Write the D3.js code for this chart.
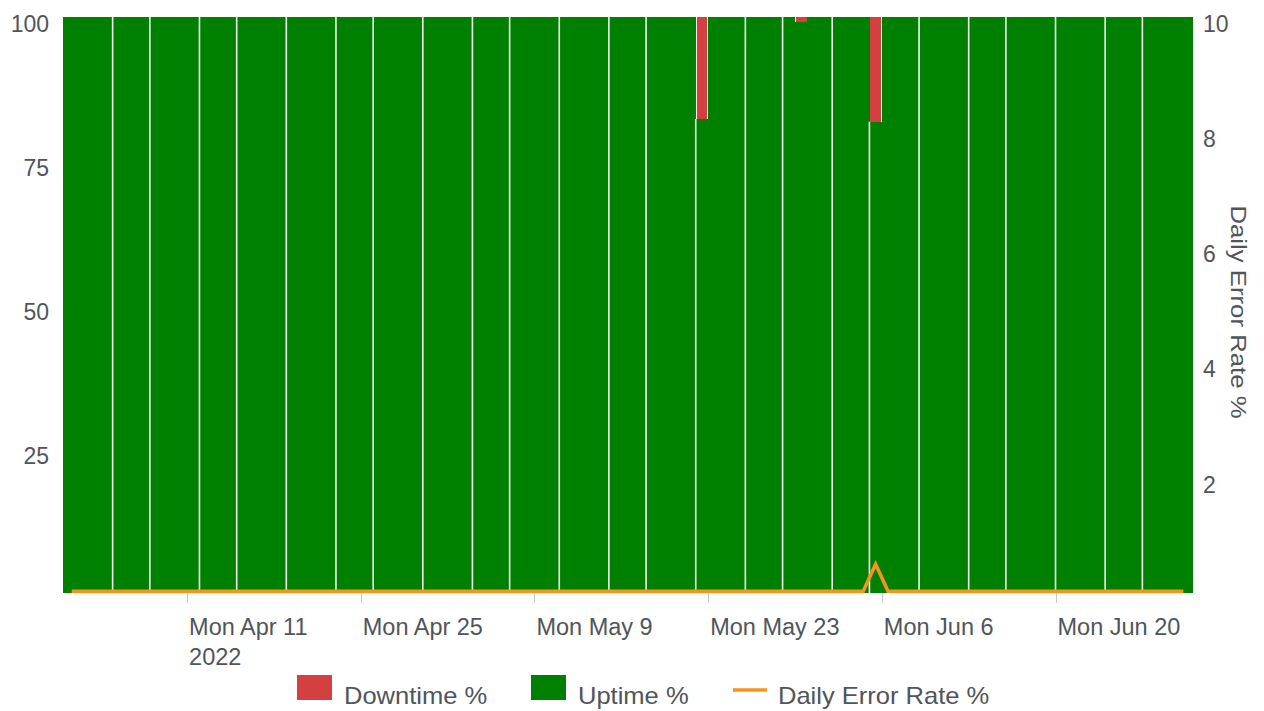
<!DOCTYPE html>
<html><head><meta charset="utf-8">
<script src="https://cdn.jsdelivr.net/npm/d3@7"></script>
<style>body{margin:0;background:#fff;}svg{display:block;font-family:"Liberation Sans",Arial,sans-serif;}</style>
</head><body><svg id="c" width="1264" height="711"></svg>
<script>
// ---- data ----
const firstDay = "2022-04-01";
const lastDayExclusive = "2022-07-01";
const downtime = [
  0,0,0,0,0,0,0,0,0,0,
  0,0,0,0,0,0,0,0,0,0,
  0,0,0,0,0,0,0,0,0,0,
  0,0,0,0,0,0,0,0,0,0,
  0,0,0,0,0,0,0,0,0,0,
  0,17.7,0,0,0,0,0,0,0,0.9,
  0,0,0,0,0,18.2,0,0,0,0,
  0,0,0,0,0,0,0,0,0,0,
  0,0,0,0,0,0,0,0,0,0,
  0
];
const uptime = [
  100,100,100,100,100,100,100,100,100,100,
  100,100,100,100,100,100,100,100,100,100,
  100,100,100,100,100,100,100,100,100,100,
  100,100,100,100,100,100,100,100,100,100,
  100,100,100,100,100,100,100,100,100,100,
  100,82.3,100,100,100,100,100,100,100,99.1,
  100,100,100,100,100,81.8,100,100,100,100,
  100,100,100,100,100,100,100,100,100,100,
  100,100,100,100,100,100,100,100,100,100,
  100
];
const errorRate = [
  0.03,0.03,0.03,0.03,0.03,0.03,0.03,0.03,0.03,0.03,
  0.03,0.03,0.03,0.03,0.03,0.03,0.03,0.03,0.03,0.03,
  0.03,0.03,0.03,0.03,0.03,0.03,0.03,0.03,0.03,0.03,
  0.03,0.03,0.03,0.03,0.03,0.03,0.03,0.03,0.03,0.03,
  0.03,0.03,0.03,0.03,0.03,0.03,0.03,0.03,0.03,0.03,
  0.03,0.03,0.03,0.03,0.03,0.03,0.03,0.03,0.03,0.03,
  0.03,0.03,0.03,0.03,0.03,0.5,0.03,0.03,0.03,0.03,
  0.03,0.03,0.03,0.03,0.03,0.03,0.03,0.03,0.03,0.03,
  0.03,0.03,0.03,0.03,0.03,0.03,0.03,0.03,0.03,0.03,
  0.03
];
const xTickDates = ["2022-04-11","2022-04-25","2022-05-09","2022-05-23","2022-06-06","2022-06-20"];
const leftTicks = [25,50,75,100];
const rightTicks = [2,4,6,8,10];
const legendLabels = ["Downtime %","Uptime %","Daily Error Rate %"];
const rightTitle = "Daily Error Rate %";

// ---- setup ----
const parse = d3.timeParse("%Y-%m-%d");
const days = d3.timeDay.range(parse(firstDay), parse(lastDayExclusive));
const rows = days.map((d,i)=>({i, date:d, down:downtime[i], up:uptime[i], err:errorRate[i]}));

const C = {green:"#008000", red:"#d43f3f", orange:"#f7931e", text:"#50555b", tick:"#c8c8c8", sep:"#f2f4f2"};
const L=63, R=1192, T=17, B=593;
const svg = d3.select("#c");

const x = d3.scaleTime().domain([parse(firstDay), parse(lastDayExclusive)]).range([L,R]);
const yL = d3.scaleLinear().domain([0,100]).range([B,T]);
const yR = d3.scaleLinear().domain([0,10]).range([B,T]);
const dayW = d => x(d3.timeDay.offset(d,1)) - x(d);

// bars
const g = svg.append("g").attr("shape-rendering","crispEdges");
g.selectAll("rect.up").data(rows).join("rect").attr("class","up")
  .attr("x", d=>x(d.date)).attr("width", d=>dayW(d.date)+0.5)
  .attr("y", d=>yL(d.up)).attr("height", d=>yL(0)-yL(d.up))
  .attr("fill", C.green);
g.selectAll("rect.down").data(rows.filter(d=>d.down>0)).join("rect").attr("class","down")
  .attr("x", d=>x(d.date)+0.8).attr("width", d=>dayW(d.date)-1.6)
  .attr("y", d=>yL(d.up+d.down)).attr("height", d=>yL(d.up)-yL(d.up+d.down))
  .attr("fill", C.red);

// faint bar borders that survive the render only at some day boundaries (every ~3.6 bars)
const period = 3.64, phase = 0.1593;
const sepRows = rows.filter(d => d.i>0 && Math.floor(d.i/period + phase) > Math.floor((d.i-1)/period + phase));
svg.append("g").selectAll("line").data(sepRows).join("line")
  .attr("x1", d=>x(d.date)).attr("x2", d=>x(d.date))
  .attr("y1", d=>yL(d.up)).attr("y2", B)
  .attr("stroke", C.sep).attr("stroke-width",1.6);

// error line
const line = d3.line().x(d=>x(d.date)+dayW(d.date)/2 + (d===rows[0]?2.5:0) - (d===rows[rows.length-1]?2.5:0)).y(d=>yR(d.err));
svg.append("path").datum(rows).attr("d", line).attr("fill","none")
  .attr("stroke", C.orange).attr("stroke-width",3.5).attr("stroke-linejoin","miter");

// x axis
const xa = svg.append("g").attr("transform",`translate(0,${B})`)
  .call(d3.axisBottom(x).tickValues(xTickDates.map(parse)).tickSize(10).tickPadding(0)
    .tickFormat(d3.timeFormat("%a %b %-d")));
xa.select(".domain").remove();
xa.selectAll(".tick line").attr("stroke",C.tick).attr("shape-rendering","crispEdges");
xa.selectAll(".tick text").attr("text-anchor","start").attr("x",1.5).attr("y",42).attr("dy",null)
  .attr("fill",C.text).style("font-size","23.5px")
  .each(function(d,i){ if(i===0){ d3.select(this).append("tspan").attr("x",1.5).attr("dy",30).text(d3.timeFormat("%Y")(d)); } });

// left axis
const la = svg.append("g").attr("transform",`translate(${L},0)`)
  .call(d3.axisLeft(yL).tickValues(leftTicks).tickSize(0).tickPadding(14));
la.select(".domain").remove();
la.selectAll(".tick text").attr("y",7).attr("fill",C.text).style("font-size","23px");

// right axis
const ra = svg.append("g").attr("transform",`translate(${R},0)`)
  .call(d3.axisRight(yR).tickValues(rightTicks).tickSize(0).tickPadding(11));
ra.select(".domain").remove();
ra.selectAll(".tick text").attr("y",7).attr("fill",C.text).style("font-size","23px");

svg.append("text").attr("transform","translate(1231,312) rotate(90) scale(1.12,1)")
  .attr("text-anchor","middle").attr("fill",C.text).style("font-size","23px").text(rightTitle);

// legend
const lg = svg.append("g");
const items = [
  {label:legendLabels[0], type:"rect", color:C.red, x:297},
  {label:legendLabels[1], type:"rect", color:C.green, x:531},
  {label:legendLabels[2], type:"line", color:C.orange, x:733}
];
items.forEach(it=>{
  if(it.type==="rect"){
    lg.append("rect").attr("x",it.x).attr("y",675).attr("width",35).attr("height",25).attr("fill",it.color);
    lg.append("text").attr("transform",`translate(${it.x+47},704) scale(1.11,1)`).attr("fill",C.text).style("font-size","23px").text(it.label);
  } else {
    lg.append("line").attr("x1",it.x).attr("x2",it.x+34).attr("y1",690).attr("y2",690).attr("stroke",it.color).attr("stroke-width",3.5);
    lg.append("text").attr("transform",`translate(${it.x+45},704) scale(1.11,1)`).attr("fill",C.text).style("font-size","23px").text(it.label);
  }
});
</script></body></html>
